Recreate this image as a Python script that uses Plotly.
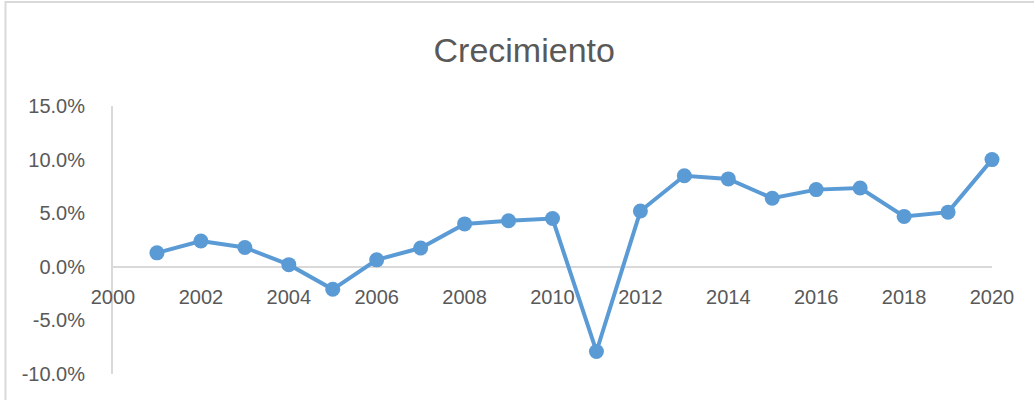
import plotly.graph_objects as go

years = [2001, 2002, 2003, 2004, 2005, 2006, 2007, 2008, 2009, 2010,
         2011, 2012, 2013, 2014, 2015, 2016, 2017, 2018, 2019, 2020]
growth = [0.013, 0.024, 0.018, 0.002, -0.021, 0.0065, 0.0175, 0.040, 0.043, 0.045,
          -0.079, 0.052, 0.085, 0.082, 0.064, 0.072, 0.0735, 0.047, 0.051, 0.100]
x_ticks = [2000, 2002, 2004, 2006, 2008, 2010, 2012, 2014, 2016, 2018, 2020]
y_ticks = [-0.10, -0.05, 0.0, 0.05, 0.10, 0.15]
y_labels = ["-10.0%", "-5.0%", "0.0%", "5.0%", "10.0%", "15.0%"]

BLUE = "#5B9BD5"
TXT = "#595959"
AX = "#D9D9D9"
FONT = "Liberation Sans, Arial, sans-serif"

fig = go.Figure()
fig.add_trace(go.Scatter(
    x=years, y=growth, mode="lines+markers",
    line=dict(color=BLUE, width=4),
    marker=dict(color=BLUE, size=15),
    cliponaxis=False, showlegend=False,
))

fig.update_layout(
    width=1034, height=400,
    margin=dict(l=113, r=42, t=106, b=26),
    paper_bgcolor="white", plot_bgcolor="white",
    title=dict(text="Crecimiento", x=0.507, xanchor="center", y=0.875, yanchor="middle",
               font=dict(family=FONT, size=34, color=TXT)),
    font=dict(family=FONT, color=TXT),
    xaxis=dict(range=[2000, 2020], tickvals=x_ticks, ticktext=[str(t) for t in x_ticks],
               showgrid=False, zeroline=False, showline=False, ticks="",
               anchor="free", position=0.4, ticklabelstandoff=16,
               tickfont=dict(family=FONT, size=20, color=TXT)),
    yaxis=dict(range=[-0.10, 0.15], tickvals=y_ticks, ticktext=y_labels,
               showgrid=False, zeroline=True, zerolinecolor=AX, zerolinewidth=2,
               showline=True, linecolor=AX, linewidth=2, ticks="",
               ticklabelstandoff=22,
               tickfont=dict(family=FONT, size=20, color=TXT)),
    shapes=[dict(type="rect", xref="paper", yref="paper",
                 x0=-0.1223, x1=1.06, y0=-0.13, y1=1.388,
                 line=dict(color=AX, width=2), fillcolor="rgba(0,0,0,0)", layer="below")],
)

fig.write_html("out.html", config={"displayModeBar": False},
               post_script="document.body.style.margin='0';document.body.style.overflow='hidden';")
